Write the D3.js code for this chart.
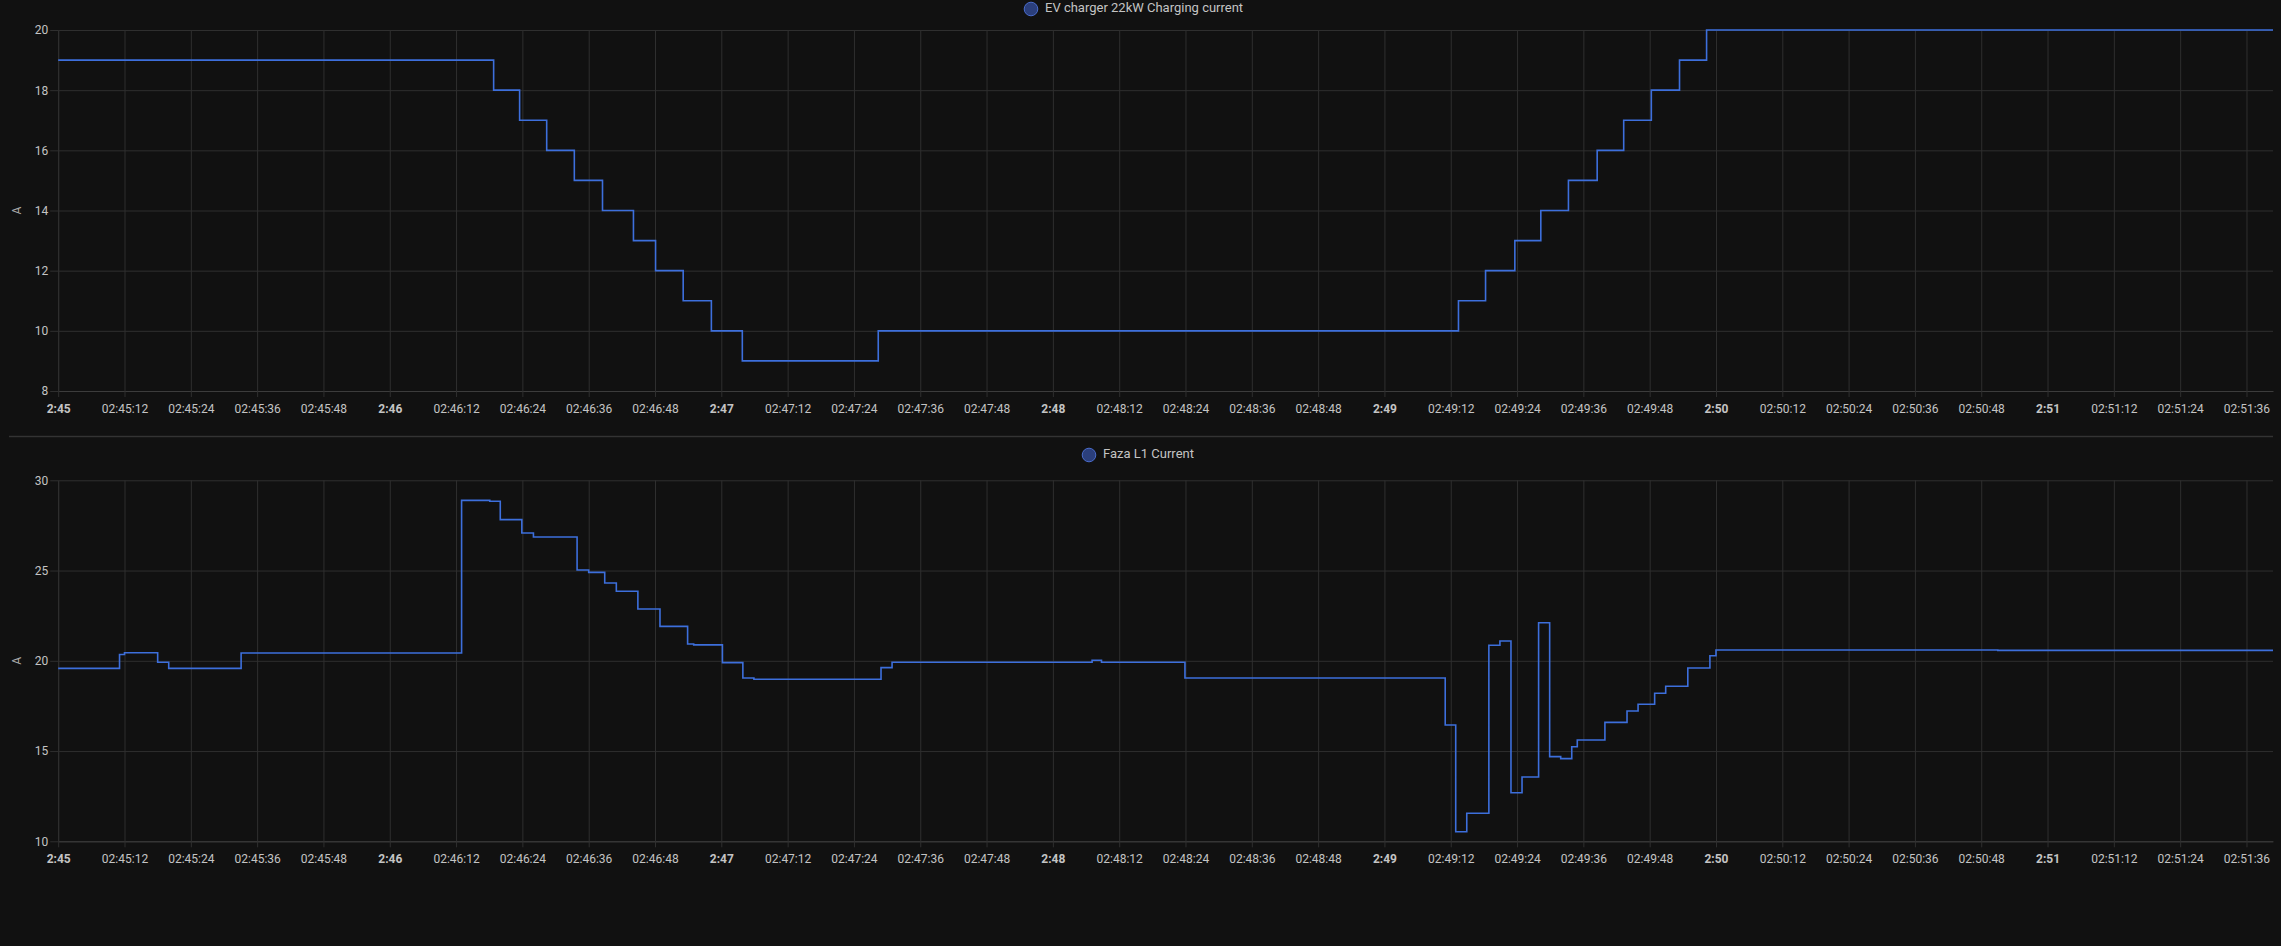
<!DOCTYPE html>
<html>
<head>
<meta charset="utf-8">
<script src="https://cdn.jsdelivr.net/npm/d3@7"></script>
<style>
  html, body { margin: 0; padding: 0; background: #111111; }
  svg { display: block; font-family: Roboto, "Noto Sans", sans-serif; }
</style>
</head>
<body>
<svg id="chart" width="2281" height="946"></svg>
<script>
// ---- DATA (seconds after 02:45:00) ----
const evTitle = "EV charger 22kW Charging current";
const evTimes = [0, 78.8, 83.5, 88.4, 93.4, 98.5, 104.1, 108.1, 113.1, 118.2, 123.8, 148.4,
  253.4, 258.3, 263.6, 268.3, 273.3, 278.5, 283.3, 288.3, 293.4, 298.3, 400.8];
const evValues = [19, 18, 17, 16, 15, 14, 13, 12, 11, 10, 9, 10,
  11, 12, 13, 14, 15, 16, 17, 18, 19, 20, 20];
const evTicks = [8, 10, 12, 14, 16, 18, 20];

const l1Title = "Faza L1 Current";
const l1Times = [0, 11.1, 12.0, 18.0, 20.0, 33.1, 73.0, 78.1, 80.0, 83.9, 86.0, 93.9, 96.0,
  98.9, 101.0, 104.9, 108.9, 113.9, 115.0, 120.2, 123.9, 125.9, 148.9, 150.9, 187.1, 188.8,
  203.9, 251.0, 252.9, 254.9, 258.9, 260.9, 262.9, 264.9, 267.9, 269.9, 271.9, 273.9, 274.9,
  279.9, 283.9, 285.9, 288.9, 290.9, 294.9, 298.9, 300.0, 351.0, 400.8];
const l1Values = [19.58, 20.35, 20.45, 19.92, 19.58, 20.43, 28.89, 28.84, 27.82, 27.08, 26.86, 25.03, 24.90,
  24.31, 23.85, 22.87, 21.91, 20.93, 20.88, 19.90, 19.05, 18.98, 19.62, 19.92, 20.03, 19.92,
  19.05, 16.44, 10.53, 11.55, 20.86, 21.10, 12.69, 13.56, 22.11, 14.69, 14.58, 15.24, 15.61,
  16.59, 17.22, 17.59, 18.20, 18.59, 19.60, 20.28, 20.60, 20.58, 20.58];
const l1Ticks = [10, 15, 20, 25, 30];

const unitLabel = "A";
const startTime = new Date(2024, 0, 1, 2, 45, 0);
const endSeconds = 400.8;

// ---- HELPERS ----
const toDate = s => new Date(startTime.getTime() + s * 1000);
const svg = d3.select("#chart");
const x = d3.scaleTime().domain([toDate(0), toDate(endSeconds)]).range([58.2, 2273]);
const gridColor = "#2f2f2f";
const axisColor = "#3c3c3c";
const textColor = "#c4c4c4";
const lineColor = "#3d6fdc";

const fmtMin = d3.timeFormat("%-H:%M");
const fmtSec = d3.timeFormat("%H:%M:%S");

function panel(opts) {
  const { times, values, ticks, yDomain, top, bottom, title, legendX, legendY } = opts;
  const y = d3.scaleLinear().domain(yDomain).range([bottom, top]);
  const g = svg.append("g");

  // horizontal grid
  g.append("g")
    .attr("transform", `translate(${x.range()[0]},0)`)
    .call(d3.axisLeft(y).tickValues(ticks).tickSize(-(x.range()[1] - x.range()[0])).tickFormat(""))
    .call(a => a.select(".domain").remove())
    .call(a => a.selectAll("line").attr("stroke", gridColor).attr("stroke-width", 1));

  // vertical grid
  const xt = x.ticks(d3.timeSecond.every(12));
  g.append("g")
    .attr("transform", `translate(0,${bottom})`)
    .call(d3.axisBottom(x).tickValues(xt).tickSize(-(bottom - top)).tickFormat(""))
    .call(a => a.select(".domain").remove())
    .call(a => a.selectAll("line").attr("stroke", gridColor).attr("stroke-width", 1));

  // x axis with labels
  const xa = g.append("g")
    .attr("transform", `translate(0,${bottom})`)
    .call(d3.axisBottom(x).tickValues(xt).tickSizeInner(6).tickSizeOuter(0).tickPadding(7)
      .tickFormat(d => d.getSeconds() === 0 ? fmtMin(d) : fmtSec(d)));
  xa.select(".domain").attr("stroke", axisColor);
  xa.selectAll("line").attr("stroke", gridColor);
  xa.selectAll("text")
    .attr("fill", textColor)
    .attr("font-size", 12)
    .attr("font-family", "Roboto, sans-serif")
    .attr("font-weight", d => d.getSeconds() === 0 ? "bold" : "normal");

  // y axis labels
  const ya = g.append("g")
    .attr("transform", `translate(${x.range()[0]},0)`)
    .call(d3.axisLeft(y).tickValues(ticks).tickSizeInner(8).tickSizeOuter(0).tickPadding(2));
  ya.select(".domain").attr("stroke", gridColor);
  ya.selectAll("line").attr("stroke", gridColor);
  ya.selectAll("text").attr("fill", textColor).attr("font-size", 12)
    .attr("font-family", "Roboto, sans-serif");

  // unit label
  g.append("text")
    .attr("transform", `translate(18,${(top + bottom) / 2}) rotate(-90)`)
    .attr("text-anchor", "middle")
    .attr("dominant-baseline", "middle")
    .attr("fill", "#a8a8a8")
    .attr("font-size", 12)
    .text(unitLabel);

  // series
  const data = times.map((t, i) => ({ t: toDate(t), v: values[i] }));
  g.append("path")
    .datum(data)
    .attr("fill", "none")
    .attr("stroke", lineColor)
    .attr("stroke-width", 1.6)
    .attr("d", d3.line().x(d => x(d.t)).y(d => y(d.v)).curve(d3.curveStepAfter));

  // legend
  const lg = g.append("g").attr("transform", `translate(${legendX},${legendY})`);
  lg.append("circle").attr("r", 6.8).attr("fill", "#2b3f7c").attr("stroke", "#4a6ccc").attr("stroke-width", 1);
  lg.append("text").attr("x", 14).attr("dominant-baseline", "middle")
    .attr("fill", textColor).attr("font-size", 13).text(title);
}

panel({ times: evTimes, values: evValues, ticks: evTicks, yDomain: [8, 20],
  top: 30, bottom: 391, title: evTitle, legendX: 1031, legendY: 9 });

// separator
svg.append("line").attr("x1", 9).attr("x2", 2273).attr("y1", 436.5).attr("y2", 436.5)
  .attr("stroke", "#333333").attr("stroke-width", 1.5);

panel({ times: l1Times, values: l1Values, ticks: l1Ticks, yDomain: [10, 30],
  top: 480.3, bottom: 841.3, title: l1Title, legendX: 1089, legendY: 455 });
</script>
</body>
</html>
